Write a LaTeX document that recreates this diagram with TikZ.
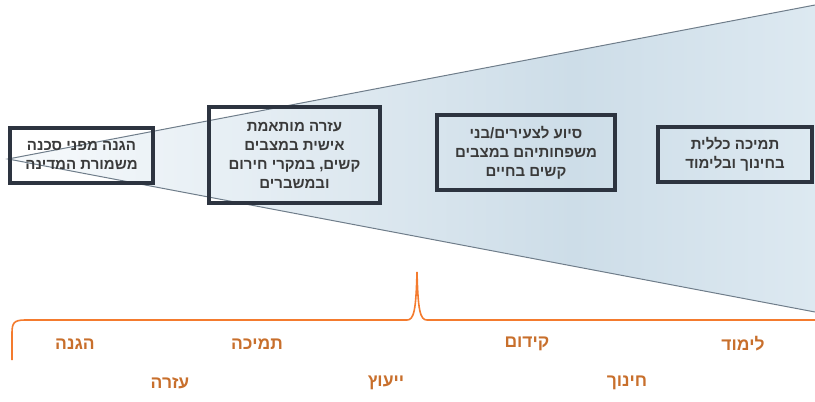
\documentclass[tikz,border=0pt]{standalone}
\usepackage{fontspec}
\newfontfamily\hebfont[Script=Hebrew]{Liberation Sans Bold}
\TeXXeTstate=1
\usepackage{tikz}

\newcommand*{\heb}[1]{\beginR #1\endR}
\newcommand*{\xmax}{815}
\newcommand*{\ymax}{402}

\definecolor{boxline}{HTML}{2D3440}
\definecolor{boxtext}{HTML}{3A3A3A}
\definecolor{coneline}{HTML}{6F7D8A}
\definecolor{bracecol}{HTML}{F47B2E}
\definecolor{lblcol}{HTML}{C86F2C}
\definecolor{conea}{HTML}{F7FAFC}
\definecolor{coneb}{HTML}{CDDDE8}
\definecolor{conec}{HTML}{DDE9F1}

\pgfdeclarehorizontalshading{cone}{100bp}{color(0bp)=(conea); color(25bp)=(conea); color(60bp)=(coneb); color(75bp)=(conec); color(100bp)=(conec)}

\begin{document}
\begin{tikzpicture}
[
	x=1pt,y=-1pt,
	box/.style={draw=boxline,line width=3.2pt,inner sep=0pt,align=center,
	  text=boxtext,font=\hebfont\fontsize{15}{19}\selectfont},
	lbl/.style={text=lblcol,font=\hebfont\fontsize{17.5}{20}\selectfont},
	brace/.style={draw=bracecol,line width=1.6pt}
]
	\useasboundingbox (0,0) rectangle (\xmax,\ymax);

	% cone
	\shade[shading=cone] (8,159) -- (\xmax,5) -- (\xmax,312) -- cycle;
	\draw[coneline,line width=1pt] (\xmax,5) -- (8,159) -- (\xmax,312);

	% boxes
	\node[box,minimum width=143pt,minimum height=55pt] (hagana) at (81.5,155.5)
	  {\heb{הגנה מפני סכנה}\\\heb{משמורת המדינה}};
	\node[box,minimum width=171pt,minimum height=96pt] (ezra) at (294.5,155)
	  {\heb{עזרה מותאמת}\\\heb{אישית במצבים}\\\heb{קשים, במקרי חירום}\\\heb{ובמשברים}};
	\node[box,minimum width=178pt,minimum height=75pt] (siyua) at (526,152.5)
	  {\heb{סיוע לצעירים/בני}\\\heb{משפחותיהם במצבים}\\\heb{קשים בחיים}};
	\node[box,minimum width=154pt,minimum height=55pt] (tmicha) at (735,154.5)
	  {\heb{תמיכה כללית}\\\heb{בחינוך ובלימוד}};

	% brace
	\draw[brace] (12,360) -- (12,333) .. controls (12,323) and (14,320) .. (25,320)
	  -- (407,320) .. controls (414,320) and (416,310) .. (417,272)
	  .. controls (418,310) and (420,320) .. (427,320) -- (\xmax,320);

	% labels
	\node[lbl] (lblHagana) at (75,344) {\heb{הגנה}};
	\node[lbl] (lblTmicha) at (257,344) {\heb{תמיכה}};
	\node[lbl] (lblKidum) at (527,344) {\heb{קידום}};
	\node[lbl] (lblLimud) at (743,344) {\heb{לימוד}};
	\node[lbl] (lblEzra) at (170,383) {\heb{עזרה}};
	\node[lbl] (lblYeutz) at (386,383) {\heb{ייעוץ}};
	\node[lbl] (lblHinuch) at (627,383) {\heb{חינוך}};

\end{tikzpicture}
\end{document}
